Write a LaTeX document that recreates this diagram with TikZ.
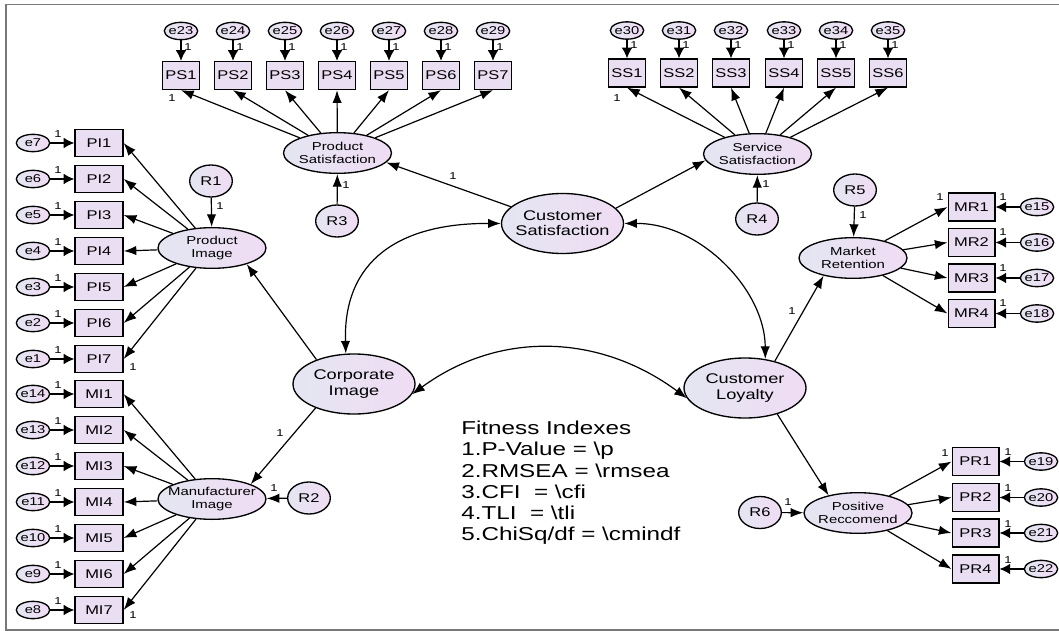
\documentclass[tikz,border=0pt]{standalone}
\usepackage{fontspec}
\setmainfont[FakeStretch=1.3]{Liberation Sans}
\usetikzlibrary{arrows.meta,shapes.geometric}
\definecolor{boxfill}{RGB}{234,222,242}
\definecolor{elleft}{RGB}{228,230,242}
\definecolor{elright}{RGB}{240,220,244}
\definecolor{framecol}{RGB}{120,120,120}
\tikzset{
  lat/.style={ellipse, draw=black, line width=1pt, left color=elleft, right color=elright, inner xsep=-12pt, inner ysep=-4pt, align=center},
  biglat/.style={lat, minimum width=91.5pt, minimum height=45pt, font=\fontsize{10.5}{11.5}\selectfont},
  smlat/.style={lat, minimum width=81pt, minimum height=30.5pt, font=\fontsize{8.6}{9.3}\selectfont},
  obs/.style={rectangle, draw=black, line width=1pt, fill=boxfill, inner sep=0pt, font=\fontsize{9.5}{10}\selectfont},
  psbox/.style={obs, minimum width=28pt, minimum height=21pt},
  pibox/.style={obs, minimum width=36pt, minimum height=20.5pt},
  mrbox/.style={obs, minimum width=35pt, minimum height=21pt},
  err/.style={ellipse, draw=black, line width=1pt, left color=elleft, right color=elright, inner sep=-3pt, minimum width=25pt, minimum height=13pt, font=\fontsize{8.5}{8.5}\selectfont},
  res/.style={ellipse, draw=black, line width=1pt, left color=elleft, right color=elright, inner sep=0pt, minimum width=32pt, minimum height=24pt, font=\fontsize{9.5}{10}\selectfont},
  arr/.style={line width=0.9pt, -{Latex[length=9.5pt,width=7pt]}},
  earr/.style={line width=0.9pt, -{Latex[length=8pt,width=8pt]}},
  dbl/.style={line width=0.9pt, {Latex[length=9.5pt,width=7pt]}-{Latex[length=9.5pt,width=7pt]}},
  one/.style={font=\fontsize{7.5}{8}\selectfont, inner sep=0pt},
}
\begin{document}
\begin{tikzpicture}[x=0.75pt,y=-0.75pt]
\useasboundingbox (0,0) rectangle (1059,631);
\draw[framecol, line width=1.1pt] (6,4.5) rectangle (1064,630);

% latent variables
\node[biglat] (CS) at (562.5,223.5) {Customer\\Satisfaction};
\node[biglat] (CI) at (354,384) {Corporate\\Image};
\node[biglat] (CL) at (745,388) {Customer\\Loyalty};
\node[smlat] (PS) at (337.5,153) {Product\\Satisfaction};
\node[smlat] (SS) at (757.5,154) {Service\\Satisfaction};
\node[smlat] (PIm) at (212,248) {Product\\Image};
\node[smlat] (MIm) at (212,499) {Manufacturer\\Image};
\node[smlat] (MR) at (853,258) {Market\\Retention};
\node[smlat] (PR) at (858,513) {Positive\\Reccomend};

% residuals
\node[res] (R1) at (211,181) {R1};
\node[res] (R2) at (309,498) {R2};
\node[res] (R3) at (337,221) {R3};
\node[res] (R4) at (757,219) {R4};
\node[res] (R5) at (855,190) {R5};
\node[res] (R6) at (760,512.5) {R6};

\draw[arr] (R1) -- (PIm); \node[one] at (220,206) {1};
\draw[arr] (R3) -- (PS);  \node[one] at (346,185) {1};
\draw[arr] (R4) -- (SS);  \node[one] at (766,184) {1};
\draw[arr] (R5) -- (MR);  \node[one] at (863,215) {1};
\draw[arr] (R2) -- (MIm); \node[one] at (274,488) {1};
\draw[arr] (R6) -- (PR);  \node[one] at (788,502) {1};

% Product Satisfaction indicators
\foreach \i/\x/\e in {1/181/23,2/233/24,3/285/25,4/337/26,5/389/27,6/441/28,7/493/29}{
  \node[psbox] (PS\i) at (\x,75.5) {PS\i};
  \node[err] (e\e) at (\x,31) {e\e};
  \draw[earr] (e\e) -- (PS\i);
  \node[one] at (\x+7,47) {1};
  \draw[arr] (PS) -- (PS\i.south);
}
\node[one] at (172,98) {1};

% Service Satisfaction indicators
\foreach \i/\x/\e in {1/627/30,2/679/31,3/731/32,4/784/33,5/836/34,6/888/35}{
  \node[psbox] (SS\i) at (\x,73) {SS\i};
  \node[err] (e\e) at (\x,30.5) {e\e};
  \draw[earr] (e\e) -- (SS\i);
  \node[one] at (\x+7,45) {1};
  \draw[arr] (SS) -- (SS\i.south);
}
\node[one] at (617,98) {1};

% Product Image indicators
\foreach \i/\y/\e in {1/143/7,2/179/6,3/215/5,4/251/4,5/287/3,6/323/2,7/359/1}{
  \node[pibox] (PI\i) at (99,\y) {PI\i};
  \node[err] (e\e) at (33,\y) {e\e};
  \draw[earr] (e\e) -- (PI\i);
  \node[one] at (58,\y-9) {1};
  \draw[arr] (PIm) -- (PI\i.east);
}
\node[one] at (133,367) {1};

% Manufacturer Image indicators
\foreach \i/\y/\e in {1/394/14,2/430/13,3/466/12,4/502/11,5/538/10,6/574/9,7/610/8}{
  \node[pibox] (MI\i) at (99,\y) {MI\i};
  \node[err] (e\e) at (33,\y) {e\e};
  \draw[earr] (e\e) -- (MI\i);
  \node[one] at (58,\y-9) {1};
  \draw[arr] (MIm) -- (MI\i.east);
}
\node[one] at (133,615) {1};

% Market Retention indicators
\foreach \i/\y/\e in {1/207/15,2/242.5/16,3/278/17,4/313.5/18}{
  \node[mrbox] (MR\i) at (971.5,\y) {MR\i};
  \node[err] (e\e) at (1037,\y) {e\e};
  \draw[earr] (e\e) -- (MR\i);
  \node[one] at (1003,\y-10) {1};
  \draw[arr] (MR) -- (MR\i.west);
}
\node[one] at (940,197) {1};

% Positive Reccomend indicators
\foreach \i/\y/\e in {1/461.5/19,2/497.5/20,3/533/21,4/569/22}{
  \node[mrbox] (PR\i) at (975.5,\y) {PR\i};
  \node[err] (e\e) at (1041,\y) {e\e};
  \draw[earr] (e\e) -- (PR\i);
  \node[one] at (1008,\y-9) {1};
  \draw[arr] (PR) -- (PR\i.west);
}
\node[one] at (945,453) {1};

% structural paths
\draw[arr] (CS.162) -- (PS.-11); \node[one] at (453,176) {1};
\draw[arr] (CS.16) -- (SS.187);
\draw[arr] (CI.147) -- (PIm.-25);
\draw[arr] (CI.212) -- (MIm.21); \node[one] at (280,433) {1};
\draw[arr] (CL.42) -- (MR.211); \node[one] at (792,311) {1};
\draw[arr] (CL.-39) -- (PR.149);

% covariances
\draw[dbl] (CS.west) .. controls (400,223) and (343,260) .. (CI.105);
\draw[dbl] (CS.east) .. controls (700,223) and (765,290) .. (CL.55);
\draw[dbl] (CI.-10) .. controls (500,330) and (600,334) .. (CL.190);

% fitness indexes
\node[anchor=north west, inner sep=0pt, align=left, font=\fontsize{14}{15.9}\selectfont] (fit) at (461,421)
  {Fitness Indexes\\
   1.P-Value = \textbackslash p\\
   2.RMSEA = \textbackslash rmsea\\
   3.CFI\ \ = \textbackslash cfi\\
   4.TLI\ \ = \textbackslash tli\\
   5.ChiSq/df = \textbackslash cmindf};
\end{tikzpicture}
\end{document}
